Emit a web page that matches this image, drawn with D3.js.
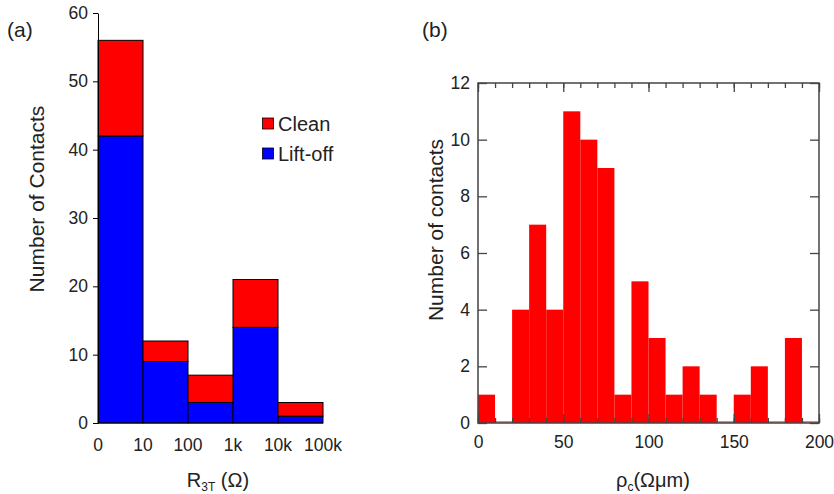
<!DOCTYPE html>
<html><head><meta charset="utf-8">
<script src="https://cdn.jsdelivr.net/npm/d3@7"></script>
<style>body{margin:0;background:#fff}svg{display:block}text{font-family:"Liberation Sans",Arial,sans-serif;fill:#222}</style>
</head><body>
<script>
// Panel (a) data
const binLabelsA = ["0","10","100","1k","10k","100k"];
const liftOff = [42, 9, 3, 14, 1];
const clean = [14, 3, 4, 7, 2];
const yTicksA = [0,10,20,30,40,50,60];
// Panel (b) data
const binStartsB = [0,10,20,30,40,50,60,70,80,90,100,110,120,130,140,150,160,170,180,190];
const countsB = [1,0,4,7,4,11,10,9,1,5,3,1,2,1,0,1,2,0,3,0];
const xTicksB = [0,50,100,150,200];
const yTicksB = [0,2,4,6,8,10,12];

const W = 834, H = 494;
const svg = d3.select("body").append("svg").attr("width", W).attr("height", H);

// ---------- Panel (a) ----------
const xa = d3.scaleLinear().domain([0, 5]).range([98, 323]);
const ya = d3.scaleLinear().domain([0, 60]).range([423, 13]);
const ga = svg.append("g");
const stackA = liftOff.map((l, i) => ({i, l, c: clean[i]}));
ga.selectAll("rect.lift").data(stackA).join("rect")
  .attr("x", d => xa(d.i)).attr("width", d => xa(d.i + 1) - xa(d.i))
  .attr("y", d => ya(d.l)).attr("height", d => ya(0) - ya(d.l))
  .attr("fill", "#0000ff").attr("stroke", "#000").attr("stroke-width", 1);
ga.selectAll("rect.clean").data(stackA).join("rect")
  .attr("x", d => xa(d.i)).attr("width", d => xa(d.i + 1) - xa(d.i))
  .attr("y", d => ya(d.l + d.c)).attr("height", d => ya(d.l) - ya(d.l + d.c))
  .attr("fill", "#ff0000").attr("stroke", "#000").attr("stroke-width", 1);

const axA = ga.append("g").attr("transform", `translate(${xa(0)},0)`)
  .call(d3.axisLeft(ya).tickValues(yTicksA).tickSize(5).tickPadding(5).tickSizeOuter(0));
axA.select(".domain").attr("stroke", "#000");
axA.selectAll(".tick line").attr("stroke", "#000");
axA.selectAll(".tick text").style("font-size", "17.5px").attr("fill", "#222");

ga.append("line").attr("x1", xa(0)).attr("x2", xa(5)).attr("y1", ya(0)).attr("y2", ya(0)).attr("stroke", "#000");

ga.selectAll("text.xl").data(binLabelsA).join("text")
  .attr("x", (d, i) => xa(i)).attr("y", 451).attr("text-anchor", "middle")
  .style("font-size", "17.5px").text(d => d);

// legend
const legA = [{t: "Clean", c: "#ff0000", y: 131}, {t: "Lift-off", c: "#0000ff", y: 161}];
ga.selectAll("rect.leg").data(legA).join("rect")
  .attr("x", 262.5).attr("y", d => d.y - 13).attr("width", 11).attr("height", 11)
  .attr("fill", d => d.c).attr("stroke", "#000").attr("stroke-width", 0.8);
ga.selectAll("text.leg").data(legA).join("text")
  .attr("x", 278).attr("y", d => d.y).style("font-size", "20px").text(d => d.t);

ga.append("text").attr("transform", "translate(44,199) rotate(-90)").attr("text-anchor", "middle")
  .style("font-size", "21px").text("Number of Contacts");
const xlA = ga.append("text").attr("x", 218).attr("y", 487).attr("text-anchor", "middle").style("font-size", "20px");
xlA.append("tspan").text("R");
xlA.append("tspan").attr("dy", 4).style("font-size", "12px").text("3T");
xlA.append("tspan").attr("dy", -4).text(" (Ω)");
ga.append("text").attr("x", 7).attr("y", 37).style("font-size", "21px").text("(a)");

// ---------- Panel (b) ----------
const xb = d3.scaleLinear().domain([0, 200]).range([478, 819]);
const yb = d3.scaleLinear().domain([0, 12]).range([423, 83]);
const gb = svg.append("g");
gb.append("line").attr("x1", xb(0)).attr("x2", xb(200)).attr("y1", yb(0) - 1).attr("y2", yb(0) - 1)
  .attr("stroke", "#f08080").attr("stroke-width", 2);
gb.selectAll("rect.bar").data(countsB.map((c, i) => ({s: binStartsB[i], c}))).join("rect")
  .attr("x", d => xb(d.s)).attr("width", d => xb(d.s + 10) - xb(d.s))
  .attr("y", d => yb(d.c)).attr("height", d => yb(0) - yb(d.c))
  .attr("fill", "#ff0000");

const frameCol = "#444";
const minorX = d3.range(0, 201, 10);
function styleAxis(g) {
  g.select(".domain").remove();
  g.selectAll(".tick line").attr("stroke", frameCol).attr("stroke-width", 1.3);
}
gb.append("g").attr("transform", `translate(0,${yb(0)})`)
  .call(d3.axisBottom(xb).tickValues(minorX).tickSize(-5).tickFormat(""))
  .call(styleAxis);
const bx = gb.append("g").attr("transform", `translate(0,${yb(0)})`)
  .call(d3.axisBottom(xb).tickValues(xTicksB).tickSize(-9).tickPadding(13))
  .call(styleAxis);
bx.selectAll(".tick text").style("font-size", "17.5px").attr("fill", "#222");
gb.append("g").attr("transform", `translate(0,${yb(12)})`)
  .call(d3.axisTop(xb).tickValues(minorX).tickSize(-5).tickFormat(""))
  .call(styleAxis);
gb.append("g").attr("transform", `translate(0,${yb(12)})`)
  .call(d3.axisTop(xb).tickValues(xTicksB).tickSize(-9).tickFormat(""))
  .call(styleAxis);
const by = gb.append("g").attr("transform", `translate(${xb(0)},0)`)
  .call(d3.axisLeft(yb).tickValues(yTicksB).tickSize(-9).tickPadding(8))
  .call(styleAxis);
by.selectAll(".tick text").style("font-size", "17.5px").attr("fill", "#222");
gb.append("g").attr("transform", `translate(${xb(200)},0)`)
  .call(d3.axisRight(yb).tickValues(yTicksB).tickSize(-9).tickFormat(""))
  .call(styleAxis);
gb.append("rect").attr("x", xb(0)).attr("y", yb(12)).attr("width", xb(200) - xb(0)).attr("height", yb(0) - yb(12))
  .attr("fill", "none").attr("stroke", frameCol).attr("stroke-width", 1.5);

gb.append("text").attr("transform", "translate(443,230) rotate(-90)").attr("text-anchor", "middle")
  .style("font-size", "21px").text("Number of contacts");
const xlB = gb.append("text").attr("x", 653).attr("y", 487).attr("text-anchor", "middle").style("font-size", "20px");
xlB.append("tspan").text("ρ");
xlB.append("tspan").attr("dy", 4).style("font-size", "12px").text("c");
xlB.append("tspan").attr("dy", -4).text("(Ωμm)");
gb.append("text").attr("x", 422).attr("y", 37).style("font-size", "21px").text("(b)");
</script>
</body></html>
